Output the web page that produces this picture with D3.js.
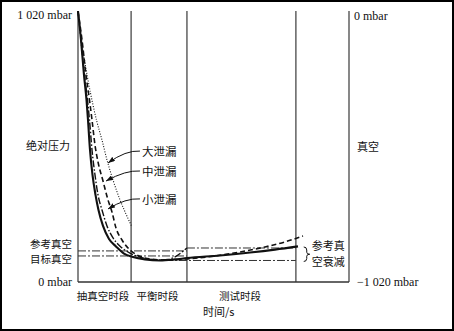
<!DOCTYPE html>
<html><head><meta charset="utf-8">
<script src="https://cdn.jsdelivr.net/npm/d3@7"></script>
<style>
html,body{margin:0;padding:0;background:#fff;}
svg{display:block;}
.cn{font-family:"Noto Sans CJK SC","Noto Sans",sans-serif;fill:#111;}
.num{font-family:"Liberation Serif","DejaVu Serif",serif;fill:#111;}
</style>
</head><body>
<svg id="chart" width="454" height="331"></svg>
<script>
// ---- data ----
const phaseLabels = ["抽真空时段", "平衡时段", "测试时段", ""];
const phaseBounds = [0, 19.6, 40.2, 80.4, 100];           // time (arbitrary units)
const leftTicks = [1020, 0];
const leftTickLabels = ["1 020 mbar", "0 mbar"];
const rightTickLabels = ["0 mbar", "−1 020 mbar"];
const refVacuum = 117;      // 参考真空 (mbar abs)
const targetVacuum = 98;    // 目标真空
const decayUpper = 128;     // 参考真空衰减 band
const decayLower = 81;

// [time, absolute pressure mbar]
const noLeak = [[0,1020],[1.11,911],[2.21,779],[3.14,685],[3.69,610],[4.43,497],[5.35,403],[6.46,328],[7.56,271],[9.23,211],[11.44,162],[14.02,134],[16.97,107],[20.30,94],[24.72,85],[30.26,81],[35.79,85],[40.22,90],[52.40,100],[63.47,111],[72.69,122],[81.18,134]];
const smallLeak = [[0,1020],[1.11,911],[2.40,779],[3.51,685],[4.24,610],[5.17,497],[6.27,403],[7.38,328],[8.86,271],[10.70,211],[12.92,166],[15.50,135],[18.45,113],[21.40,98],[25.83,87],[30.26,83],[33.21,85],[40.22,128]];
const mediumLeak = [[0,1020],[1.48,911],[2.95,779],[4.24,685],[5.17,610],[6.27,516],[7.38,452],[9.23,380],[11.07,309],[12.55,263],[14.02,203],[16.24,158],[18.82,124],[21.77,102],[26.57,87],[32.10,83],[40.22,87],[50.55,98],[59.78,113],[69.00,132],[76.38,151],[83.03,173]];
const largeLeak = [[0,1020],[1.85,873],[3.69,760],[5.54,666],[7.01,602],[8.86,534],[10.70,459],[12.92,384],[15.50,309],[17.71,256],[19.93,207]];

const leakLabels = ["大泄漏", "中泄漏", "小泄漏"];
const leakArrowTips = [[11.07,448],[10.33,380],[11.07,275]];
const leakLabelPos = [[23.6,489],[23.6,414],[23.6,309]];

// ---- drawing ----
const svg = d3.select("#chart");
const x = d3.scaleLinear().domain([0,100]).range([78,349]);
const y = d3.scaleLinear().domain([0,1020]).range([282,11]);

svg.append("rect").attr("x",1).attr("y",1).attr("width",452).attr("height",329)
  .attr("fill","#fff").attr("stroke","#000").attr("stroke-width",2);

const defs = svg.append("defs");
defs.append("marker").attr("id","arr").attr("viewBox","0 0 7 5")
  .attr("refX",7).attr("refY",2.5).attr("markerWidth",7).attr("markerHeight",5)
  .attr("markerUnits","userSpaceOnUse").attr("orient","auto")
  .append("path").attr("d","M0,0L7,2.5L0,5Z").attr("fill","#111");

// frame lines: dividers + left/right axes
phaseBounds.forEach(b => {
  svg.append("line").attr("x1",x(b)).attr("x2",x(b)).attr("y1",y(1020)).attr("y2",y(0))
    .attr("stroke","#555").attr("stroke-width",1.4);
});
svg.append("line").attr("x1",x(0)).attr("x2",x(100)).attr("y1",y(0)).attr("y2",y(0))
  .attr("stroke","#333").attr("stroke-width",1.4);

// reference dash-dot lines
const dd = "8,2,2,2";
function hline(p, t0, t1){
  svg.append("line").attr("x1",x(t0)).attr("x2",x(t1)).attr("y1",y(p)).attr("y2",y(p))
    .attr("stroke","#333").attr("stroke-width",1).attr("stroke-dasharray",dd);
}
hline(refVacuum, phaseBounds[0], phaseBounds[2]);
hline(targetVacuum, phaseBounds[0], phaseBounds[2]);
hline(decayUpper, phaseBounds[2], phaseBounds[3]);
hline(decayLower, 32.1, phaseBounds[3]);

// curves
const line = d3.line().x(d=>x(d[0])).y(d=>y(d[1])).curve(d3.curveMonotoneX);
const series = [
  {data: largeLeak, w: 1.1, dash: "1,1.6"},
  {data: mediumLeak, w: 1.6, dash: "5,3"},
  {data: smallLeak, w: 1.4, dash: "7,2,1.5,2"},
  {data: noLeak, w: 2.1, dash: null}
];
series.forEach(s => {
  svg.append("path").attr("d", line(s.data)).attr("fill","none")
    .attr("stroke","#111").attr("stroke-width", s.w)
    .attr("stroke-dasharray", s.dash);
});

// leak labels with arrows
leakLabels.forEach((lab,i) => {
  const lx = x(leakLabelPos[i][0]), ly = y(leakLabelPos[i][1]);
  const tx = x(leakArrowTips[i][0]), ty = y(leakArrowTips[i][1]);
  const sx = lx - 2, sy = ly - 1;
  svg.append("path").attr("d", `M${sx},${sy}Q${sx-14},${sy-1} ${tx},${ty}`)
    .attr("fill","none").attr("stroke","#111").attr("stroke-width",1)
    .attr("marker-end","url(#arr)");
  svg.append("text").attr("class","cn").attr("x",lx).attr("y",ly).attr("dy","0.36em")
    .attr("font-size",11.5).text(lab);
});

// brace for decay band
const bx = x(83.3), by1 = y(decayUpper)-1, by2 = y(decayLower)+1, bm = (by1+by2)/2;
svg.append("path").attr("d",
  `M${bx},${by1}Q${bx+3},${by1} ${bx+3},${by1+3}L${bx+3},${bm-2}Q${bx+3},${bm} ${bx+6},${bm}Q${bx+3},${bm} ${bx+3},${bm+2}L${bx+3},${by2-3}Q${bx+3},${by2} ${bx},${by2}`)
  .attr("fill","none").attr("stroke","#111").attr("stroke-width",1);
svg.append("text").attr("class","cn").attr("x",bx+8).attr("y",bm-8).attr("dy","0.36em")
  .attr("font-size",11).text("参考真");
svg.append("text").attr("class","cn").attr("x",bx+8).attr("y",bm+7.5).attr("dy","0.36em")
  .attr("font-size",11).text("空衰减");

// left tick labels
leftTicks.forEach((v,i) => {
  svg.append("text").attr("class","num").attr("x",x(0)-6).attr("y",y(v)+(i===0?4:0)).attr("dy","0.35em")
    .attr("text-anchor","end").attr("font-size",12).attr("xml:space","preserve").text(leftTickLabels[i]);
  svg.append("text").attr("class","num").attr("x",x(100)+(i===0?5:8)).attr("y",y(v)+(i===0?5:0)).attr("dy","0.35em")
    .attr("font-size",12).attr("xml:space","preserve").text(rightTickLabels[i]);
});

// axis titles
svg.append("text").attr("class","cn").attr("x",x(0)-8).attr("y",146).attr("dy","0.36em")
  .attr("text-anchor","end").attr("font-size",11).text("绝对压力");
svg.append("text").attr("class","cn").attr("x",x(100)+8).attr("y",147).attr("dy","0.36em")
  .attr("font-size",11).text("真空");
svg.append("text").attr("class","cn").attr("x",x(0)-6).attr("y",y(refVacuum)-6.5).attr("dy","0.36em")
  .attr("text-anchor","end").attr("font-size",10.5).text("参考真空");
svg.append("text").attr("class","cn").attr("x",x(0)-6).attr("y",y(targetVacuum)+3.5).attr("dy","0.36em")
  .attr("text-anchor","end").attr("font-size",10.5).text("目标真空");

// phase labels
phaseLabels.forEach((lab,i) => {
  if(!lab) return;
  svg.append("text").attr("class","cn").attr("x",(x(phaseBounds[i])+x(phaseBounds[i+1]))/2 - 1.5)
    .attr("y",y(0)+14).attr("dy","0.36em").attr("text-anchor","middle")
    .attr("font-size",10.5).text(lab);
});
svg.append("text").attr("class","cn").attr("x",203).attr("y",y(0)+30).attr("dy","0.36em")
  .attr("font-size",11).text("时间/s");
</script>
</body></html>
